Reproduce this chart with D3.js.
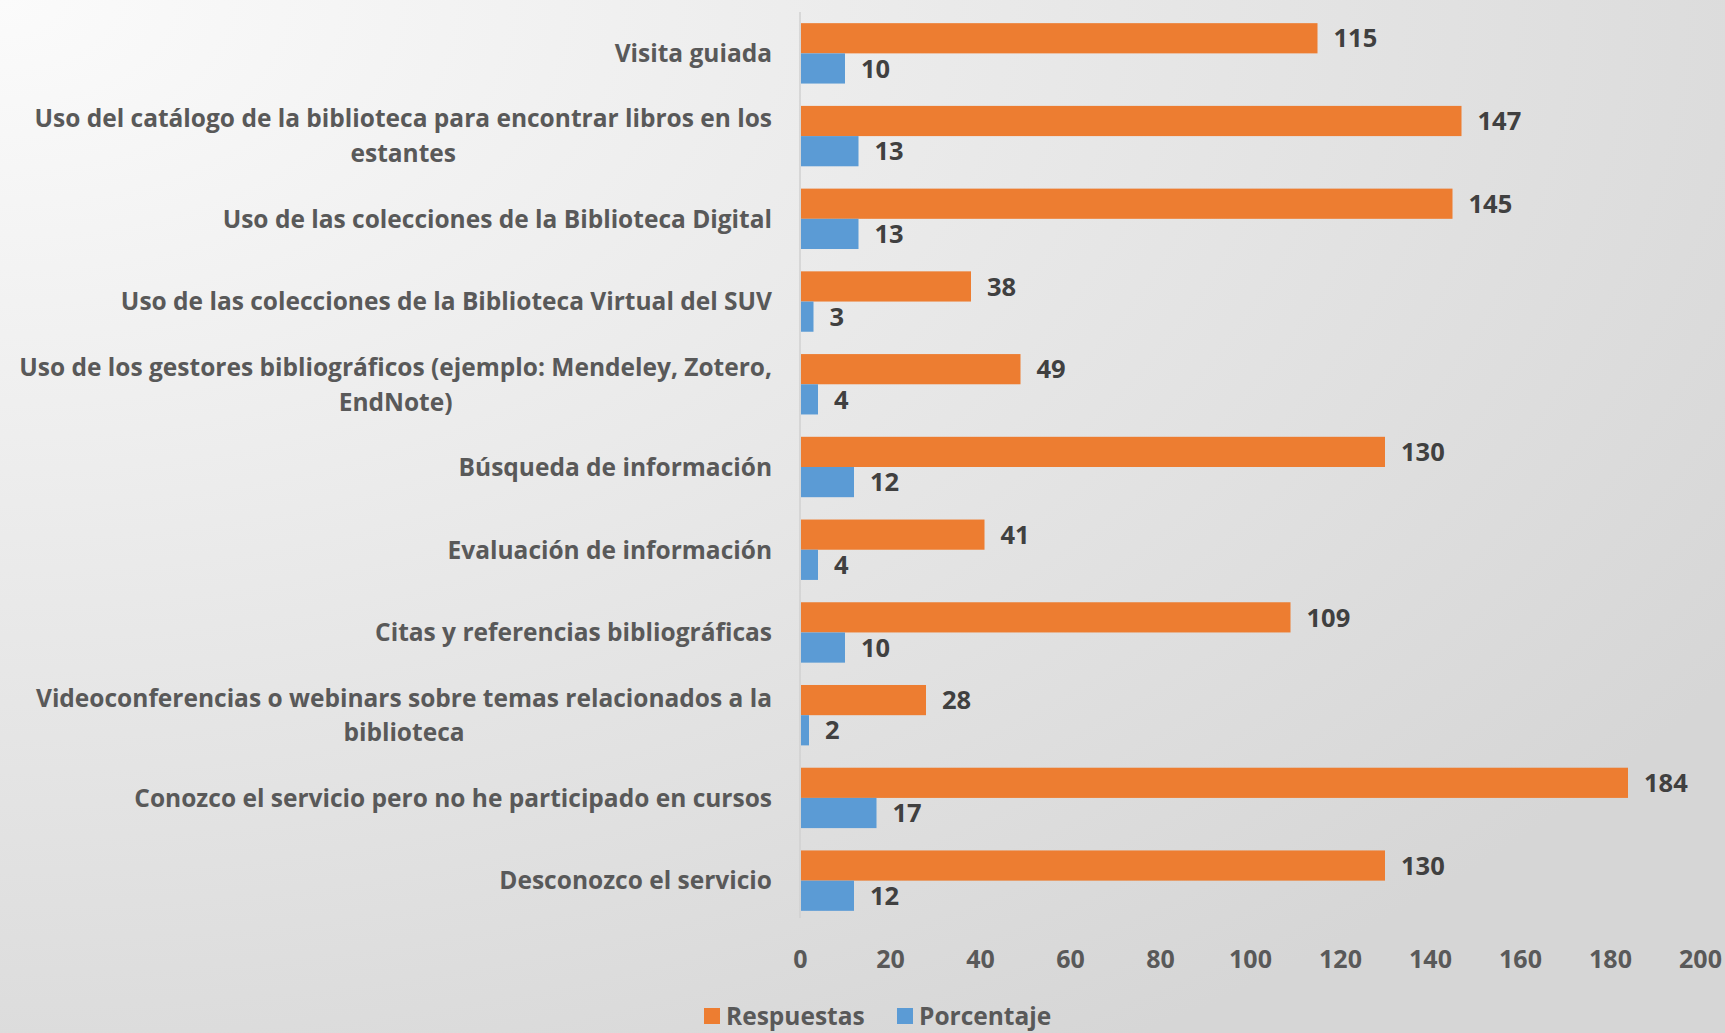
<!DOCTYPE html>
<html>
<head>
<meta charset="utf-8">
<script src="https://cdn.jsdelivr.net/npm/d3@7"></script>
<style>
  html, body { margin: 0; padding: 0; }
  body { width: 1725px; height: 1033px; overflow: hidden; }
  text { font-family: "Open Sans", "Noto Sans", sans-serif; font-weight: bold; }
</style>
</head>
<body>
<div id="container"></div>
<script>
const categories = [
  ["Visita guiada"],
  ["Uso del catálogo de la biblioteca para encontrar libros en los", "estantes"],
  ["Uso de las colecciones de la Biblioteca Digital"],
  ["Uso de las colecciones de la Biblioteca Virtual del SUV"],
  ["Uso de los gestores bibliográficos (ejemplo: Mendeley, Zotero,", "EndNote)"],
  ["Búsqueda de información"],
  ["Evaluación de información"],
  ["Citas y referencias bibliográficas"],
  ["Videoconferencias o webinars sobre temas relacionados a la", "biblioteca"],
  ["Conozco el servicio pero no he participado en cursos"],
  ["Desconozco el servicio"]
];
const respuestas = [115, 147, 145, 38, 49, 130, 41, 109, 28, 184, 130];
const porcentaje = [10, 13, 13, 3, 4, 12, 4, 10, 2, 17, 12];
const seriesNames = ["Respuestas", "Porcentaje"];
const colors = ["#ED7D31", "#5B9BD5"];
const xTicks = [0, 20, 40, 60, 80, 100, 120, 140, 160, 180, 200];

const width = 1725, height = 1033;
const labelSize = 24.5;
const svg = d3.select("#container").append("svg")
  .attr("width", width).attr("height", height);

const defs = svg.append("defs");
const grad = defs.append("radialGradient").attr("id", "bg")
  .attr("cx", "0%").attr("cy", "0%").attr("r", "120%");
grad.append("stop").attr("offset", "0%").attr("stop-color", "#fbfbfb");
grad.append("stop").attr("offset", "100%").attr("stop-color", "#d6d6d6");
svg.append("rect").attr("width", width).attr("height", height).attr("fill", "url(#bg)");

const x = d3.scaleLinear().domain([0, 200]).range([800, 1700]);
const y = d3.scaleBand().domain(d3.range(categories.length)).range([12, 922]).paddingInner(0.27).paddingOuter(0.135);
const sub = d3.scaleBand().domain([0, 1]).range([0, y.bandwidth()]);

// vertical axis line
svg.append("line").attr("x1", x(0)).attr("x2", x(0)).attr("y1", 12).attr("y2", 918)
  .attr("stroke", "#d0d0d0").attr("stroke-width", 1.5);

const rows = svg.append("g").selectAll("g").data(categories).join("g")
  .attr("transform", (d, i) => `translate(0,${y(i)})`);

[respuestas, porcentaje].forEach((vals, s) => {
  rows.append("rect")
    .attr("x", x(0) + 1)
    .attr("y", sub(s))
    .attr("width", (d, i) => x(vals[i]) - x(0) - 1)
    .attr("height", sub.bandwidth())
    .attr("fill", colors[s]);
  rows.append("text")
    .attr("x", (d, i) => x(vals[i]) + 16)
    .attr("y", sub(s) + sub.bandwidth() / 2)
    .attr("dy", "0.36em")
    .attr("font-size", 25.5)
    .attr("fill", "#404040")
    .text((d, i) => vals[i]);
});

// category labels (lines centered on each other, block right-aligned)
const labelRight = 772;
rows.each(function (lines) {
  const g = d3.select(this);
  const t = g.append("text").attr("font-size", labelSize).attr("fill", "#595959").attr("text-anchor", "middle");
  const lh = 35;
  const cy = y.bandwidth() / 2;
  const spans = lines.map((ln, k) =>
    t.append("tspan").attr("x", 0).attr("y", cy + (k - (lines.length - 1) / 2) * lh).attr("dy", "0.36em").text(ln));
  const w = d3.max(spans, sp => sp.node().getComputedTextLength());
  spans.forEach(sp => sp.attr("x", labelRight - w / 2));
});

// x axis
const xAxis = svg.append("g").attr("transform", "translate(0,959)")
  .call(d3.axisBottom(x).tickValues(xTicks).tickSize(0).tickPadding(0));
xAxis.select(".domain").remove();
xAxis.attr("font-family", null).attr("font-size", null);
xAxis.selectAll("text").attr("font-size", 25).attr("fill", "#595959").attr("dy", "0.36em");

// legend
const legend = svg.append("g").attr("transform", "translate(704,1016)");
const legendX = [0, 193];
seriesNames.forEach((name, s) => {
  const lg = legend.append("g").attr("transform", `translate(${legendX[s]},0)`);
  lg.append("rect").attr("x", 0).attr("y", -8).attr("width", 16).attr("height", 16).attr("fill", colors[s]);
  lg.append("text").attr("x", 22).attr("dy", "0.36em").attr("font-size", labelSize).attr("fill", "#595959").text(name);
});
</script>
</body>
</html>
